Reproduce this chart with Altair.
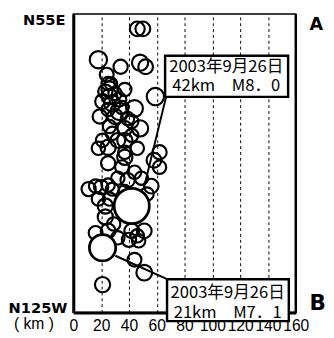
import altair as alt
import pandas as pd

# hypocentres: depth (km), distance along profile from N55E end (km), magnitude
depth_km = [46, 50, 18, 34, 48, 52, 24, 25, 27, 59, 37, 23, 26, 30, 21, 28, 33, 25, 35, 44,
            19, 30, 39, 48, 37, 26, 42, 32, 37, 21, 25, 18, 37, 25, 62, 58, 35, 44, 62, 11,
            16, 20, 25, 28, 56, 23, 26, 23, 25, 16, 42, 51, 40, 46, 47, 44, 51, 21, 32, 39,
            49, 53, 37, 18, 29, 32, 26, 33, 37, 46, 28, 42]
dist_km = [15, 15, 46, 53, 49, 53, 61, 70, 70, 83, 76, 78, 83, 80, 88, 90, 86, 96, 94, 95,
           103, 103, 105, 115, 115, 113, 122, 127, 127, 127, 134, 135, 144, 150, 139, 147, 154, 159, 154, 176,
           173, 174, 172, 176, 173, 193, 186, 204, 218, 220, 218, 218, 227, 223, 228, 247, 260, 272, 165, 167,
           165, 181, 178, 186, 211, 225, 76, 98, 139, 135, 120, 108]
mag = [5.3, 5.3, 5.8, 5.2, 5.6, 5.3, 5.1, 5.0, 4.8, 5.8, 5.0, 5.2, 5.5, 5.0, 5.3, 5.6, 5.2, 5.0, 5.0, 5.7,
       5.2, 5.4, 5.0, 5.6, 5.3, 5.0, 5.0, 5.3, 5.4, 5.0, 5.4, 5.0, 5.4, 5.2, 5.2, 5.3, 5.1, 5.0, 5.0, 5.2,
       5.0, 5.2, 5.0, 4.9, 5.3, 5.4, 5.0, 5.4, 5.3, 5.1, 5.3, 5.3, 5.2, 5.0, 5.0, 5.1, 5.5, 5.4, 5.0, 5.2,
       5.0, 5.0, 4.8, 5.0, 5.0, 5.0, 5.6, 5.8, 5.0, 5.0, 5.0, 5.0]

# main shocks
main_depth = [42, 21]
main_dist = [193, 235]
main_mag = [8.0, 7.1]

# annotation boxes
box_x = [66, 67.4]
box_x2 = [154.5, 155]
box_y = [42, 266.6]
box_y2 = [83.3, 308.7]
line1 = ["2003年9月26日", "2003年9月26日"]
line2 = ["42km　M8．0", "21km　M7．1"]
text_x = [110, 111]
text_y1 = [53.9, 280.6]
text_y2 = [72.5, 300.2]

# leader lines
lead_x = [66.7, 30.2]
lead_y = [83.3, 243]
lead_x2 = [50.5, 67.4]
lead_y2 = [176.4, 266.6]

x_ticks = [0, 20, 40, 60, 80, 100, 120, 140, 160]

quakes = pd.DataFrame({"depth": depth_km, "dist": dist_km, "mag": mag})
mains = pd.DataFrame({"depth": main_depth, "dist": main_dist, "mag": main_mag})
boxes = pd.DataFrame({"x": box_x, "x2": box_x2, "y": box_y, "y2": box_y2,
                      "t1": line1, "t2": line2, "tx": text_x, "ty1": text_y1, "ty2": text_y2})
leads = pd.DataFrame({"x": lead_x, "y": lead_y, "x2": lead_x2, "y2": lead_y2})

xs = alt.Scale(domain=[0, 160], nice=False, zero=False)
ys = alt.Scale(domain=[0, 300], nice=False, zero=False, reverse=True)

xaxis = alt.Axis(values=x_ticks, title=None, ticks=False, labelOverlap=False, labelFlush=False,
                 labelFontSize=16, labelFont="Liberation Sans", labelColor="black", labelPadding=5,
                 domainWidth=3, domainColor="black", grid=True, gridDash=[3, 3], gridColor="black",
                 gridWidth=1, gridOpacity=1)
yaxis = alt.Axis(title=None, labels=False, ticks=False, grid=False, domainWidth=3, domainColor="black")


def X(field):
    return alt.X(field, type="quantitative", scale=xs, axis=xaxis)


def Y(field):
    return alt.Y(field, type="quantitative", scale=ys, axis=yaxis)


size_expr = "1300 * pow(10, 0.28 * (datum.mag - 8))"

small = alt.Chart(quakes).transform_calculate(s=size_expr).mark_point(
    shape="circle", filled=False, color="black", strokeWidth=2.2, opacity=1
).encode(
    x=X("depth"), y=Y("dist"),
    size=alt.Size("s:Q", scale=None, legend=None),
)

big = alt.Chart(mains).transform_calculate(s=size_expr).mark_point(
    shape="circle", filled=True, fill="white", stroke="black", strokeWidth=2.8, opacity=1, fillOpacity=1
).encode(
    x=X("depth"), y=Y("dist"),
    size=alt.Size("s:Q", scale=None, legend=None),
)

right_border = alt.Chart(pd.DataFrame({"v": [160]})).mark_rule(color="black", strokeWidth=2.5).encode(
    x=X("v")
)

lead = alt.Chart(leads).mark_rule(color="black", strokeWidth=2).encode(
    x=X("x"), y=Y("y"), x2="x2:Q", y2="y2:Q"
)

rect = alt.Chart(boxes).mark_rect(fill="white", stroke="black", strokeWidth=2.5).encode(
    x=X("x"), x2="x2:Q", y=Y("y"), y2="y2:Q"
)

jp = dict(font="Noto Sans CJK JP", fontSize=17, color="black", align="center", baseline="middle")
t1 = alt.Chart(boxes).mark_text(**jp).encode(x=X("tx"), y=Y("ty1"), text="t1:N")
t2 = alt.Chart(boxes).mark_text(**jp).encode(x=X("tx"), y=Y("ty2"), text="t2:N")


def label(text, px, py, size, align="right", weight="bold", font="DejaVu Sans"):
    return alt.Chart(pd.DataFrame({"t": [text]})).mark_text(
        font=font, fontSize=size, fontWeight=weight, color="black", align=align, baseline="alphabetic"
    ).encode(x=alt.value(px), y=alt.value(py), text="t:N")


labels = [
    label("N55E", -8, 11.5, 15),
    label("N125W", -6, 307, 15),
    label("( km )", -20, 323, 16, weight="normal", font="Liberation Sans"),
    label("A", 242, 16, 18, align="left"),
    label("B", 242, 303, 22, align="left"),
]

chart = alt.layer(small, big, right_border, lead, rect, t1, t2, *labels).properties(
    width=228, height=306,
    autosize=alt.AutoSizeParams(type="none"),
    padding={"left": 67, "top": 2, "right": 31, "bottom": 20},
).configure_view(stroke="black", strokeWidth=1.5)

chart.save("out.html", embed_options={"renderer": "svg", "actions": False})
